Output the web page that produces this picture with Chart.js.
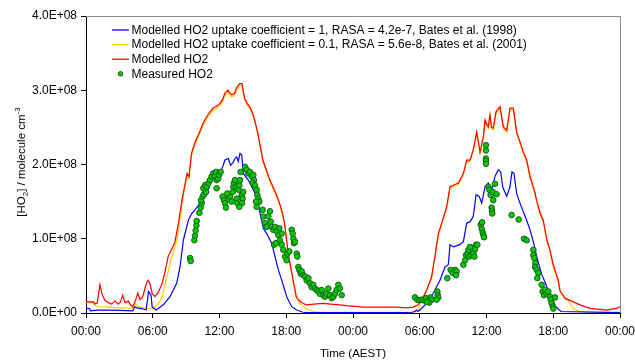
<!DOCTYPE html>
<html>
<head>
<meta charset="utf-8">
<script src="https://cdn.jsdelivr.net/npm/chart.js@4/dist/chart.umd.min.js"></script>
<style>
  html, body { margin: 0; padding: 0; background: #fff; }
</style>
</head>
<body>
<canvas id="ho2Chart" width="635" height="362"></canvas>
<script>
// values are in units of 1e8 molecule cm-3, times are hours from the first midnight
const xTickLabels = ['00:00', '06:00', '12:00', '18:00', '00:00', '06:00', '12:00', '18:00', '00:00'];
const yTickLabels = ['0.0E+00', '1.0E+08', '2.0E+08', '3.0E+08', '4.0E+08'];

const seriesNames = [
  'Modelled HO2 uptake coefficient = 1, RASA = 4.2e-7, Bates et al. (1998)',
  'Modelled HO2 uptake coefficient = 0.1, RASA = 5.6e-8, Bates et al. (2001)',
  'Modelled HO2',
  'Measured HO2'
];

const blueHours = [
  0, 0.3, 0.4, 1.0, 2.0, 3.0, 4.2, 4.4, 4.6, 5.0,
  5.4, 5.55, 5.62, 5.85, 5.95, 6.1, 6.3, 6.95, 7.55, 8.15,
  8.45, 8.75, 9.2, 9.5, 9.8, 10.25, 10.85, 11.3, 11.75, 12.2,
  12.49, 12.79, 13.0, 13.19, 13.39, 13.55, 13.69, 13.84, 14.0, 14.14,
  14.59, 15.04, 15.34, 15.64, 15.94, 16.24, 16.69, 16.99, 17.29, 17.6,
  18.04, 18.49, 18.94, 19.5, 20.0, 24.0, 28.0, 29.3, 29.57, 29.7,
  29.85, 30.02, 30.62, 31.22, 31.82, 32.27, 32.57, 32.72, 33.02, 33.62,
  33.92, 34.22, 34.52, 34.81, 35.06, 35.35, 35.57, 35.87, 36.16, 36.47,
  36.76, 37.06, 37.28, 37.45, 37.82, 38.11, 38.29, 38.47, 38.71, 39.01,
  39.61, 39.91, 40.21, 40.51, 40.96, 41.3, 41.6, 42.2, 42.7, 48
];
const blueValues = [
  0.063, 0.06, 0.03, 0.04, 0.04, 0.035, 0.03, 0.085, 0.07, 0.06,
  0.04, 0.20, 0.29, 0.24, 0.08, 0.063, 0.04, 0.11, 0.22, 0.40,
  0.62, 0.98, 1.25, 1.34, 1.39, 1.48, 1.61, 1.79, 1.88, 1.93,
  2.06, 2.08, 1.99, 2.02, 2.08, 2.10, 2.04, 2.15, 2.13, 1.88,
  1.79, 1.66, 1.57, 1.35, 1.14, 1.07, 0.94, 0.76, 0.58, 0.44,
  0.22, 0.085, 0.04, 0.01, 0.005, 0.005, 0.005, 0.01, 0.02, 0.04,
  0.02, 0.04, 0.13, 0.27, 0.44, 0.62, 0.65, 0.92, 0.89, 0.92,
  0.96, 1.21, 1.23, 1.30, 1.59, 1.57, 1.48, 1.70, 1.75, 1.66,
  1.84, 1.93, 1.90, 1.70, 1.57, 1.70, 1.90, 1.88, 1.61, 1.48,
  1.25, 1.12, 0.96, 0.76, 0.52, 0.40, 0.28, 0.09, 0.02, 0.005
];

const yellowHours = [
  0, 0.6, 0.8, 1.2, 2.0, 3.0, 4.2, 4.45, 4.7, 5.5,
  6.0, 6.5, 6.8, 7.2, 7.38, 7.6, 7.9, 8.2, 8.58, 8.85,
  9.09, 9.26, 9.48, 9.8, 10.22, 10.5, 10.83, 11.1, 11.42, 11.7,
  12.02, 12.3, 12.47, 12.76, 12.9, 13.07, 13.36, 13.52, 13.81, 14.02,
  14.26, 14.5, 14.71, 14.95, 15.16, 15.45, 15.7, 15.9, 16.2, 16.5,
  16.8, 17.1, 17.4, 17.65, 17.85, 18.0, 18.14, 18.3, 18.45, 18.7,
  18.9, 19.2, 19.7, 20.4, 21.0, 24.0, 27.0, 29.3, 29.6, 29.9,
  30.2, 30.62, 31.07, 31.3, 31.67, 31.97, 32.42, 32.72, 33.02, 33.47,
  33.92, 34.22, 34.52, 34.81, 35.12, 35.42, 35.71, 35.87, 36.0, 36.16,
  36.31, 36.45, 36.61, 36.85, 37.21, 37.51, 37.82, 38.11, 38.41, 38.71,
  39.31, 39.61, 39.91, 40.36, 40.5, 40.81, 41.1, 41.41, 41.7, 42.0,
  42.45, 42.61, 43.06, 43.35, 43.8, 44.4, 45.0, 48
];
const yellowValues = [
  0.14, 0.14, 0.10, 0.085, 0.08, 0.07, 0.063, 0.13, 0.085, 0.06,
  0.054, 0.12, 0.20, 0.45, 0.55, 0.70, 0.85, 1.00, 1.42, 1.66,
  1.85, 1.81, 2.12, 2.27, 2.41, 2.52, 2.61, 2.67, 2.73, 2.75,
  2.79, 2.85, 2.93, 2.97, 2.94, 2.91, 2.93, 3.00, 3.06, 3.06,
  2.87, 2.80, 2.76, 2.68, 2.58, 2.40, 2.20, 2.04, 1.91, 1.78,
  1.68, 1.58, 1.46, 1.33, 1.19, 1.00, 0.83, 0.68, 0.56, 0.36,
  0.21, 0.13, 0.063, 0.02, 0.01, 0.01, 0.01, 0.01, 0.02, 0.05,
  0.18, 0.30, 0.47, 0.70, 1.03, 1.20, 1.41, 1.68, 1.70, 1.73,
  1.86, 2.04, 2.04, 2.18, 2.42, 2.15, 2.35, 2.58, 2.53, 2.49,
  2.65, 2.48, 2.47, 2.69, 2.76, 2.49, 2.44, 2.74, 2.74, 2.42,
  2.15, 2.04, 1.82, 1.60, 1.50, 1.33, 1.23, 0.98, 0.83, 0.63,
  0.42, 0.29, 0.19, 0.17, 0.06, 0.02, 0.01, 0.01
];

const redHours = [
  0, 0.7, 0.8, 1.0, 1.25, 1.45, 1.7, 2.0, 2.3, 2.6,
  2.9, 3.1, 3.3, 3.5, 3.8, 4.0, 4.2, 4.4, 4.66, 4.85,
  5.1, 5.35, 5.56, 5.75, 5.95, 6.2, 6.5, 6.8, 7.1, 7.38,
  7.7, 7.98, 8.3, 8.58, 8.85, 9.09, 9.26, 9.48, 9.8, 10.22,
  10.5, 10.83, 11.1, 11.42, 11.7, 12.02, 12.3, 12.47, 12.76, 12.9,
  13.07, 13.36, 13.52, 13.81, 14.02, 14.26, 14.5, 14.71, 14.95, 15.16,
  15.45, 15.7, 15.9, 16.2, 16.5, 16.8, 17.1, 17.4, 17.65, 17.85,
  18.0, 18.14, 18.3, 18.45, 18.7, 18.9, 19.2, 19.5, 19.8, 20.5,
  21.3, 22.0, 22.8, 23.4, 24.2, 25.0, 26.4, 27.9, 28.8, 29.4,
  29.87, 30.2, 30.62, 31.07, 31.4, 31.67, 31.97, 32.42, 32.72, 33.02,
  33.47, 33.92, 34.22, 34.52, 34.81, 35.12, 35.42, 35.71, 35.87, 36.0,
  36.16, 36.31, 36.45, 36.61, 36.85, 37.21, 37.51, 37.82, 38.11, 38.41,
  38.71, 39.31, 39.61, 39.91, 40.36, 40.5, 40.81, 41.1, 41.41, 41.7,
  42.0, 42.45, 42.61, 43.06, 43.8, 44.4, 45.3, 46.8, 47.7, 48
];
const redValues = [
  0.15, 0.15, 0.12, 0.13, 0.38, 0.25, 0.17, 0.14, 0.12, 0.16,
  0.12, 0.15, 0.24, 0.14, 0.16, 0.11, 0.085, 0.15, 0.27, 0.18,
  0.22, 0.36, 0.44, 0.40, 0.26, 0.22, 0.28, 0.38, 0.55, 0.76,
  0.86, 0.95, 1.20, 1.48, 1.70, 1.88, 1.84, 2.15, 2.30, 2.44,
  2.55, 2.64, 2.70, 2.76, 2.78, 2.82, 2.88, 2.96, 3.00, 2.97,
  2.94, 2.96, 3.03, 3.09, 3.09, 2.89, 2.82, 2.78, 2.70, 2.60,
  2.42, 2.22, 2.06, 1.93, 1.80, 1.70, 1.60, 1.48, 1.35, 1.21,
  1.02, 0.85, 0.70, 0.58, 0.38, 0.22, 0.16, 0.13, 0.11, 0.12,
  0.13, 0.12, 0.11, 0.10, 0.09, 0.08, 0.08, 0.08, 0.07, 0.08,
  0.11, 0.18, 0.31, 0.49, 0.80, 1.07, 1.21, 1.43, 1.70, 1.72,
  1.75, 1.88, 2.06, 2.06, 2.20, 2.44, 2.17, 2.37, 2.60, 2.55,
  2.51, 2.67, 2.50, 2.49, 2.71, 2.78, 2.51, 2.46, 2.76, 2.76,
  2.44, 2.17, 2.06, 1.84, 1.62, 1.52, 1.35, 1.25, 1.00, 0.85,
  0.65, 0.44, 0.30, 0.20, 0.15, 0.11, 0.063, 0.04, 0.063, 0.085
];

const measHours = [
  9.35, 9.41, 9.74, 9.80, 9.86, 9.92, 9.95, 10.19, 10.31, 10.40,
  10.34, 10.49, 10.61, 10.79, 10.55, 10.70, 10.85, 11.00, 11.15, 11.30,
  11.45, 11.59, 11.68, 11.74, 11.89, 11.95, 12.10, 11.74, 12.28, 12.40,
  12.49, 12.58, 12.79, 12.94, 13.09, 12.70, 13.18, 13.24, 13.30, 13.39,
  13.48, 13.54, 13.60, 13.72, 13.78, 13.84, 13.90, 13.99, 14.08, 14.02,
  14.14, 13.78, 14.29, 14.44, 14.59, 14.74, 14.89, 15.04, 15.10, 14.98,
  15.19, 15.34, 15.40, 15.49, 15.58, 15.34, 15.28, 15.88, 15.94, 16.09,
  16.24, 16.39, 16.54, 16.60, 16.69, 16.84, 16.99, 17.14, 17.29, 17.38,
  17.44, 17.59, 16.90, 17.08, 17.59, 17.74, 17.89, 18.04, 18.10, 18.28,
  18.49, 18.58, 18.64, 18.70, 18.79, 18.94, 19.00, 19.09, 19.18, 19.30,
  19.39, 19.54, 19.69, 19.84, 19.99, 20.13, 20.28, 20.43, 20.58, 20.73,
  20.88, 21.03, 21.18, 21.33, 21.48, 21.63, 21.78, 21.93, 22.08, 22.23,
  22.38, 22.53, 22.68, 22.83, 22.98,
  29.57, 29.78, 29.96, 30.17, 30.38, 30.56, 30.77, 30.98, 31.07, 30.86,
  30.62, 31.58, 31.61, 31.67, 31.52, 32.48, 32.78, 32.96, 33.17, 33.32,
  33.26, 33.92, 34.07, 34.16, 34.28, 34.37, 34.52, 34.46, 34.67, 34.82,
  34.97, 34.91, 35.06, 35.18, 35.48, 35.57, 35.66, 35.72, 35.78, 35.60,
  35.95, 35.95, 35.95, 35.95, 35.95, 36.16, 36.25, 36.37, 36.55, 36.76,
  36.91, 36.61, 36.46, 36.49, 36.52, 38.26, 38.89, 39.37, 39.61, 40.21,
  40.21, 40.30, 40.39, 40.36, 40.51, 40.66, 40.57, 40.96, 41.05, 41.17,
  41.26, 41.41, 41.56, 41.71, 41.77, 41.86, 41.95, 42.01, 42.16
];
const measValues = [
  0.74, 0.70, 0.98, 1.04, 1.11, 1.18, 1.24, 1.35, 1.42, 1.48,
  1.52, 1.57, 1.60, 1.63, 1.68, 1.72, 1.70, 1.75, 1.79, 1.84,
  1.88, 1.84, 1.90, 1.79, 1.81, 1.86, 1.90, 1.68, 1.57, 1.52,
  1.48, 1.42, 1.54, 1.57, 1.50, 1.61, 1.63, 1.70, 1.75, 1.79,
  1.70, 1.54, 1.48, 1.66, 1.72, 1.79, 1.90, 1.59, 1.54, 1.48,
  1.63, 1.43, 1.97, 1.93, 1.88, 1.90, 1.84, 1.86, 1.79, 1.75,
  1.72, 1.66, 1.59, 1.54, 1.50, 1.43, 1.50, 1.39, 1.30, 1.21,
  1.16, 1.30, 1.37, 1.23, 1.16, 1.12, 1.16, 1.10, 1.05, 1.14,
  0.98, 1.07, 0.92, 0.94, 0.92, 0.85, 0.76, 0.71, 0.80, 0.83,
  1.12, 1.07, 1.00, 0.94, 0.96, 0.80, 0.76, 0.62, 0.58, 0.53,
  0.56, 0.51, 0.49, 0.44, 0.47, 0.40, 0.35, 0.38, 0.33, 0.31,
  0.29, 0.26, 0.31, 0.24, 0.22, 0.26, 0.33, 0.24, 0.20, 0.22,
  0.26, 0.31, 0.38, 0.33, 0.24,
  0.21, 0.18, 0.17, 0.18, 0.17, 0.20, 0.17, 0.21, 0.18, 0.14,
  0.15, 0.29, 0.24, 0.21, 0.18, 0.47, 0.58, 0.54, 0.58, 0.56,
  0.51, 0.65, 0.71, 0.78, 0.80, 0.85, 0.89, 0.76, 0.78, 0.81,
  0.86, 0.76, 0.92, 0.92, 1.19, 1.13, 1.08, 1.05, 1.02, 1.22,
  2.26, 2.19, 2.08, 2.05, 2.01, 1.70, 1.66, 1.59, 1.63, 1.74,
  1.60, 1.52, 1.42, 1.38, 1.34, 1.32, 1.26, 1.00, 0.98, 0.85,
  0.78, 0.74, 0.67, 0.62, 0.58, 0.54, 0.47, 0.38, 0.29, 0.24,
  0.31, 0.26, 0.29, 0.22, 0.18, 0.13, 0.085, 0.06, 0.21
];

const FONT = '"Liberation Sans", Arial, sans-serif';
const toPoints = (hours, values) => hours.map((h, i) => ({ x: h, y: values[i] }));

function lineSet(label, hours, values, color, order) {
  return {
    label: label,
    data: toPoints(hours, values),
    showLine: true,
    borderColor: color,
    backgroundColor: color,
    borderWidth: 1.2,
    pointRadius: 0,
    tension: 0,
    order: order
  };
}

// frame, legend and axis titles drawn on top of the chart
const decorPlugin = {
  id: 'decor',
  afterDraw(chart) {
    const ctx = chart.ctx;
    const area = chart.chartArea;
    ctx.save();

    // grey top and right frame
    ctx.strokeStyle = '#8c8c8c';
    ctx.lineWidth = 1;
    ctx.beginPath();
    ctx.moveTo(area.left, area.top + 0.5);
    ctx.lineTo(area.right + 0.5, area.top + 0.5);
    ctx.lineTo(area.right + 0.5, area.bottom);
    ctx.stroke();

    // legend
    const rows = [30, 44.6, 59.2, 73.8];
    ctx.font = '12px ' + FONT;
    ctx.textBaseline = 'middle';
    ctx.textAlign = 'left';
    chart.data.datasets.forEach((ds, i) => {
      const y = rows[i];
      if (ds.showLine) {
        ctx.strokeStyle = ds.borderColor;
        ctx.lineWidth = 1.3;
        ctx.beginPath();
        ctx.moveTo(112, y);
        ctx.lineTo(129, y);
        ctx.stroke();
      } else {
        ctx.fillStyle = ds.pointBackgroundColor;
        ctx.strokeStyle = ds.pointBorderColor;
        ctx.lineWidth = 1;
        ctx.beginPath();
        ctx.arc(120.5, y, 2.3, 0, Math.PI * 2);
        ctx.fill();
        ctx.stroke();
      }
      ctx.fillStyle = '#000';
      ctx.fillText(ds.label, 131.5, y + 0.5);
    });

    // x axis title
    ctx.font = '11.5px ' + FONT;
    ctx.textAlign = 'center';
    ctx.fillText('Time (AEST)', (area.left + area.right) / 2, 354);

    // y axis title with subscript and superscript
    const parts = [
      { t: '[HO', s: 11.5, dy: 0 },
      { t: '2', s: 8, dy: 3 },
      { t: '] / molecule cm', s: 11.5, dy: 0 },
      { t: '-3', s: 8, dy: -5 }
    ];
    let total = 0;
    parts.forEach(p => { ctx.font = p.s + 'px ' + FONT; p.w = ctx.measureText(p.t).width; total += p.w; });
    ctx.translate(21, 162);
    ctx.rotate(-Math.PI / 2);
    ctx.textAlign = 'left';
    ctx.textBaseline = 'alphabetic';
    let x = -total / 2;
    parts.forEach(p => {
      ctx.font = p.s + 'px ' + FONT;
      ctx.fillText(p.t, x, 4 + p.dy);
      x += p.w;
    });
    ctx.restore();
  }
};

const tickFont = { family: FONT, size: 12 };

new Chart(document.getElementById('ho2Chart'), {
  type: 'scatter',
  data: {
    datasets: [
      lineSet(seriesNames[0], blueHours, blueValues, '#0000ff', 1),
      lineSet(seriesNames[1], yellowHours, yellowValues, '#ffcc00', 3),
      lineSet(seriesNames[2], redHours, redValues, '#ff0000', 2),
      {
        label: seriesNames[3],
        data: toPoints(measHours, measValues),
        pointRadius: 2.8,
        pointBackgroundColor: '#00cc00',
        pointBorderColor: '#1e5a1e',
        pointBorderWidth: 1,
        order: 0
      }
    ]
  },
  options: {
    responsive: false,
    animation: false,
    devicePixelRatio: 1,
    layout: { padding: { top: 16, right: 15, left: 0, bottom: 0 } },
    plugins: {
      legend: { display: false },
      tooltip: { enabled: false }
    },
    scales: {
      x: {
        type: 'linear',
        min: 0,
        max: 48,
        afterFit: s => { s.height = 49; s.paddingRight = 0; s.paddingLeft = 0; },
        border: { color: '#000', width: 1 },
        grid: { drawOnChartArea: false, tickLength: 5, color: '#000' },
        ticks: {
          stepSize: 6,
          autoSkip: false,
          maxRotation: 0,
          padding: 6,
          color: '#000',
          font: tickFont,
          callback: v => xTickLabels[Math.round(v / 6)]
        }
      },
      y: {
        min: 0,
        max: 4,
        afterFit: s => { s.width = 86; },
        border: { color: '#000', width: 1 },
        grid: { drawOnChartArea: false, tickLength: 5, color: '#000' },
        ticks: {
          stepSize: 1,
          padding: 4,
          color: '#000',
          font: tickFont,
          callback: v => yTickLabels[Math.round(v)]
        }
      }
    }
  },
  plugins: [decorPlugin]
});
</script>
</body>
</html>
